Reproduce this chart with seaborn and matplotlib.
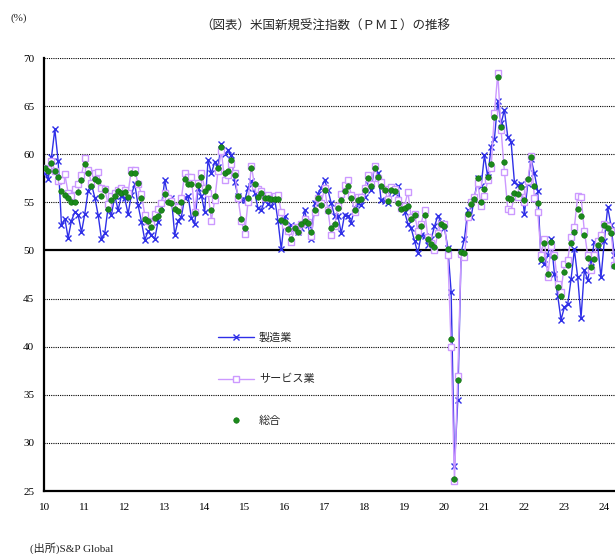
import numpy as np
import pandas as pd
import matplotlib
matplotlib.use('Agg')
import matplotlib.pyplot as plt
import seaborn as sns
from matplotlib.lines import Line2D

# monthly values, Jan 2010 - Apr 2024
manufacturing = [
    58.1, 57.4, 59.7, 62.6, 59.3, 52.6, 53.3, 51.3, 53.1, 54.0, 53.7, 51.9,
    53.8, 56.2, 56.9, 55.5, 53.7, 51.2, 51.8, 54.5, 53.7, 55.7, 54.2, 55.7,
    55.4, 53.8, 55.8, 56.9, 54.7, 53.0, 51.1, 52.0, 51.6, 51.2, 53.0, 54.5,
    57.3, 55.5, 55.5, 51.6, 53.1, 53.5, 55.5, 55.7, 53.4, 52.7, 56.5, 55.7,
    54.0, 59.4, 58.0, 59.2, 58.7, 61.1, 60.0, 60.4, 59.9, 57.1, 55.7, 55.2,
    55.2, 56.5, 57.2, 56.0, 54.4, 54.2, 55.2, 54.8, 54.6, 55.4, 53.1, 50.1,
    53.6, 52.4, 52.6, 52.3, 51.9, 52.3, 54.2, 52.6, 51.2, 54.9, 55.9, 56.5,
    57.3, 56.3, 54.9, 53.6, 53.6, 51.8, 53.7, 53.6, 52.9, 54.4, 54.9, 54.7,
    55.6, 56.9, 56.3, 58.8, 58.1, 55.2, 55.1, 54.9, 56.3, 56.0, 56.7, 54.5,
    54.0, 52.8, 52.3, 51.0, 49.7, 51.6, 51.5, 50.6, 51.2, 52.5, 53.6, 52.9,
    52.3, 50.3, 45.7, 27.6, 34.5, 49.8, 51.2, 54.2, 53.5, 55.5, 57.5, 56.7,
    59.9, 57.6, 60.8, 61.6, 65.5, 63.2, 64.6, 61.8, 61.3, 57.1, 56.8, 56.9,
    53.8, 56.9, 59.5, 58.0, 56.2, 48.9, 48.6, 49.5, 51.2, 47.6, 45.3, 42.8,
    44.1, 44.4, 47.0, 50.1, 47.2, 43.0, 48.0, 46.9, 48.8, 50.9, 50.5, 47.2,
    51.0, 54.5, 52.6, 49.5,
]
services = [
    58.6, 58.5, 59.3, 58.3, 57.2, 57.3, 57.9, 56.0, 55.7, 56.4, 56.9, 57.8,
    59.6, 58.4, 57.0, 58.0, 58.2, 56.5, 56.4, 54.8, 55.7, 56.0, 56.3, 56.5,
    56.3, 56.0, 58.4, 58.4, 56.9, 55.9, 53.7, 53.1, 52.8, 53.8, 54.3, 54.9,
    56.0, 55.4, 55.1, 54.6, 54.5, 55.4, 58.0, 57.6, 57.6, 54.0, 57.0, 58.0,
    56.5, 56.0, 53.1, 55.2, 58.3, 60.3, 57.3, 57.8, 59.0, 58.0, 55.4, 53.1,
    51.7, 55.0, 58.8, 56.7, 56.4, 56.2, 55.5, 55.8, 55.5, 55.7, 55.8, 54.0,
    52.6, 52.0, 50.9, 52.4, 52.0, 52.8, 53.3, 53.0, 51.5, 54.0, 55.4, 54.9,
    56.5, 54.2, 51.6, 52.5, 54.6, 55.9, 56.8, 57.3, 55.8, 54.0, 55.6, 55.6,
    56.5, 57.8, 56.9, 58.8, 57.5, 57.1, 56.4, 55.3, 56.6, 56.4, 55.2, 54.4,
    54.6, 56.1, 53.5, 53.8, 52.0, 52.8, 54.2, 51.4, 50.8, 50.0, 51.8, 52.8,
    52.8, 49.5, 40.0, 26.0, 37.0, 49.6, 49.3, 53.5, 55.0, 55.6, 57.0, 54.6,
    55.7, 57.3, 58.6, 64.3, 68.4, 62.5, 58.2, 54.3, 54.1, 55.7, 55.6, 56.2,
    55.0, 57.2, 59.8, 55.5, 54.0, 49.5, 51.2, 47.2, 50.5, 49.5, 46.5, 45.7,
    48.6, 49.0, 51.4, 52.4, 55.7, 55.6, 52.0, 49.5, 48.0, 49.5, 51.0, 51.6,
    52.8, 52.5, 52.0, 48.5,
]
composite = [
    58.6, 58.3, 59.1, 58.3, 57.6, 56.2, 55.8, 55.5, 55.0, 55.0, 56.1, 57.3,
    59.0, 58.1, 56.7, 57.4, 57.2, 55.7, 56.3, 54.3, 55.2, 55.7, 56.2, 56.0,
    56.1, 55.6, 58.1, 58.1, 57.0, 55.5, 53.3, 53.1, 52.4, 53.4, 53.6, 54.2,
    55.9, 55.0, 54.9, 54.3, 54.1, 55.0, 57.4, 56.9, 56.9, 53.9, 56.8, 57.6,
    56.2, 56.6, 54.2, 55.7, 58.6, 60.8, 58.0, 58.3, 59.4, 57.8, 55.7, 53.3,
    52.3, 55.5, 58.6, 56.9, 55.6, 56.0, 55.5, 55.5, 55.3, 55.3, 55.3, 53.2,
    53.0, 52.2, 51.2, 52.3, 51.9, 52.7, 53.1, 52.9, 51.9, 54.2, 55.5, 54.7,
    56.3, 54.1, 52.3, 52.7, 54.4, 55.2, 56.2, 56.7, 55.5, 54.2, 55.2, 55.3,
    56.3, 57.5, 56.7, 58.6, 57.6, 56.7, 56.3, 55.1, 56.3, 56.2, 54.9, 54.3,
    54.4, 54.6, 53.3, 53.7, 51.4, 52.5, 53.7, 51.2, 50.7, 50.4, 51.6, 52.7,
    52.5, 50.2, 40.8, 26.2, 36.5, 49.8, 49.7, 53.8, 54.8, 55.3, 57.5, 55.0,
    56.4, 57.6, 59.0, 63.9, 68.0, 62.8, 59.2, 55.5, 55.3, 56.0, 55.9, 56.6,
    55.2, 57.4, 59.7, 56.7, 54.9, 49.1, 50.8, 47.6, 50.9, 49.3, 46.2, 45.3,
    47.8, 48.5, 50.8, 51.9, 54.3, 53.6, 51.6, 49.2, 48.3, 49.1, 50.6, 51.2,
    52.6, 52.3, 51.8, 48.4,
]
year_labels = ['10', '11', '12', '13', '14', '15', '16', '17', '18', '19', '20', '21', '22', '23', '24']

month = np.arange(len(manufacturing))
df = pd.DataFrame({'month': month, 'mfg': manufacturing, 'svc': services, 'comp': composite})

sns.set_style('white')
plt.rcParams['font.family'] = ['Liberation Serif', 'Noto Sans CJK JP', 'DejaVu Sans']

fig = plt.figure(figsize=(6.15, 5.54), dpi=100)
ax = fig.add_axes([44 / 615, 1 - 491 / 554, 1 - 44 / 615, (491 - 58) / 554])

blue = '#2f2fe8'
purple = '#cc99ff'
green = '#1b8a1b'

sns.lineplot(data=df, x='month', y='mfg', ax=ax, color=blue, lw=1.0, marker='x',
             markersize=5, markeredgewidth=1.0, markeredgecolor=blue, zorder=3)
sns.lineplot(data=df, x='month', y='svc', ax=ax, color=purple, lw=1.0, marker='s',
             markersize=3.8, markerfacecolor='white', markeredgecolor=purple,
             markeredgewidth=1.0, zorder=4)
sns.scatterplot(data=df, x='month', y='comp', ax=ax, color=green, s=16,
                edgecolor='#0f6f0f', linewidth=0.4, zorder=5)

ax.set_xlim(-0.25, 171.2)
ax.set_ylim(25, 70)
ax.set_xticks(np.arange(0, 12 * len(year_labels), 12))
ax.set_xticklabels(year_labels)
ax.set_yticks(np.arange(25, 71, 5))
ax.tick_params(axis='both', direction='in', length=4, width=1, labelsize=8, colors='black')
ax.tick_params(axis='x', pad=9)
ax.tick_params(axis='y', pad=7)
ax.set_xlabel('')
ax.set_ylabel('')

for v in range(30, 71, 5):
    if v != 50:
        ax.axhline(v, color='black', lw=0.8, ls=(0, (1, 1)), zorder=1)
ax.axhline(50, color='black', lw=1.6, zorder=2)

for side in ['top', 'right']:
    ax.spines[side].set_visible(False)
for side in ['left', 'bottom']:
    ax.spines[side].set_color('black')
    ax.spines[side].set_linewidth(1.6)

handles = [
    Line2D([], [], color=blue, lw=1.0, marker='x', markersize=5, markeredgewidth=1.0),
    Line2D([], [], color=purple, lw=1.0, marker='s', markersize=3.8,
           markerfacecolor='white', markeredgewidth=1.0),
    Line2D([], [], color=green, lw=0, marker='o', markersize=4,
           markeredgecolor='#0f6f0f', markeredgewidth=0.4),
]
ax.legend(handles, ['製造業', 'サービス業', '総合'], loc='upper left',
          bbox_to_anchor=(218 / 615, 1 - 332 / 554), bbox_transform=fig.transFigure,
          frameon=False, fontsize=8, handlelength=3.2, handletextpad=0.5,
          labelspacing=2.85, borderpad=0, borderaxespad=0)

fig.text(10 / 615, 1 - 18 / 554, '(%)', fontsize=8, ha='left', va='center')
fig.text(325 / 615, 1 - 27 / 554, '（図表）米国新規受注指数（ＰＭＩ）の推移', fontsize=9,
         ha='center', va='center')
fig.text(30 / 615, 1 - 548 / 554, '(出所)S&P Global', fontsize=8, ha='left', va='center')

fig.savefig('out.png', dpi=100)
